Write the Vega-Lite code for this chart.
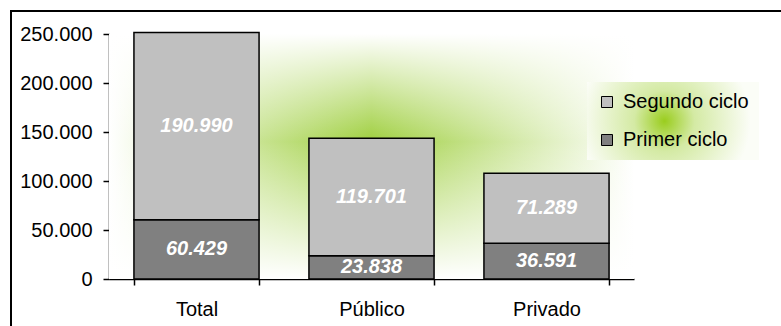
{
  "$schema": "https://vega.github.io/schema/vega-lite/v6.json",
  "width": 770,
  "height": 315,
  "autosize": {"type": "none"},
  "padding": {"left": 11, "top": 11, "right": 0, "bottom": 0},
  "background": "white",
  "config": {
    "locale": {"number": {"decimal": ",", "thousands": ".", "grouping": [3], "currency": ["", " €"]}},
    "view": {"fill": "white", "stroke": "black", "strokeWidth": 2, "strokeDash": [770, 1085, 315]},
    "font": "Liberation Sans"
  },
  "layer": [
    {
      "data": {"values": [{}]},
      "encoding": {
        "x": {"datum": 0, "type": "quantitative", "scale": {"domain": [0, 1], "range": [98, 623]}, "axis": null},
        "x2": {"datum": 1},
        "y": {"datum": 0, "type": "quantitative", "title": null},
        "y2": {"datum": 250000}
      },
      "layer": [
        {
          "mark": {
            "type": "rect",
            "strokeWidth": 0,
            "fill": {
              "gradient": "linear",
              "x1": 0, "y1": 0, "x2": 1, "y2": 0,
              "stops": [
                {"offset": 0, "color": "#ffffff"},
                {"offset": 0.5, "color": "#9fcf3f"},
                {"offset": 1, "color": "#ffffff"}
              ]
            }
          }
        },
        {
          "mark": {
            "type": "rect",
            "strokeWidth": 0,
            "fill": {
              "gradient": "linear",
              "x1": 0, "y1": 0, "x2": 0, "y2": 1,
              "stops": [
                {"offset": 0, "color": "rgba(255,255,255,1)"},
                {"offset": 0.44, "color": "rgba(255,255,255,0)"},
                {"offset": 1, "color": "rgba(255,255,255,1)"}
              ]
            }
          }
        }
      ]
    },
    {
      "data": {
        "values": [
          {"sector": "Total", "ciclo": "Primer ciclo", "valor": 60429},
          {"sector": "Total", "ciclo": "Segundo ciclo", "valor": 190990},
          {"sector": "Público", "ciclo": "Primer ciclo", "valor": 23838},
          {"sector": "Público", "ciclo": "Segundo ciclo", "valor": 119701},
          {"sector": "Privado", "ciclo": "Primer ciclo", "valor": 36591},
          {"sector": "Privado", "ciclo": "Segundo ciclo", "valor": 71289}
        ]
      },
      "encoding": {
        "x": {
          "field": "sector",
          "type": "nominal",
          "sort": ["Total", "Público", "Privado"],
          "scale": {"range": [98, 623], "paddingInner": 0.285, "paddingOuter": 0.1425},
          "axis": {
            "title": null,
            "offset": -47,
            "labelAngle": 0,
            "labelFont": "Liberation Sans",
            "labelFontSize": 20,
            "labelColor": "black",
            "labelPadding": 14,
            "tickBand": "extent",
            "tickSize": 6,
            "tickColor": "black",
            "domainColor": "black",
            "domainWidth": 1.5,
            "tickWidth": 1.5,
            "grid": false
          }
        },
        "order": {"field": "ciclo", "sort": "ascending"}
      },
      "layer": [
        {
          "mark": {"type": "bar", "stroke": "black", "strokeWidth": 1.5, "opacity": 1},
          "encoding": {
            "y": {
              "field": "valor",
              "type": "quantitative",
              "stack": "zero",
              "scale": {"domain": [0, 250000], "range": [268, 23], "nice": false},
              "axis": {
                "title": null,
                "offset": -98,
                "values": [0, 50000, 100000, 150000, 200000, 250000],
                "format": ",.0f",
                "labelFont": "Liberation Sans",
                "labelFontSize": 20,
                "labelColor": "black",
                "labelPadding": 11,
                "tickSize": 6,
                "tickColor": "black",
                "tickWidth": 1.5,
                "domainColor": "black",
                "domainWidth": 1.5,
                "grid": false
              }
            },
            "color": {
              "field": "ciclo",
              "type": "nominal",
              "scale": {"domain": ["Segundo ciclo", "Primer ciclo"], "range": ["#c0c0c0", "#808080"]},
              "legend": {
                "title": null,
                "orient": "none",
                "legendX": 576,
                "legendY": 71,
                "padding": 10,
                "fillColor": {"expr": "{gradient: 'radial', x1: 0.45, y1: 0.5, r1: 0, x2: 0.45, y2: 0.5, r2: 0.5, stops: [{offset: 0, color: '#9acd1e'}, {offset: 0.35, color: '#d4eaa4'}, {offset: 1, color: '#fbfdf7'}]}"},
                "symbolType": "square",
                "symbolSize": 121,
                "symbolStrokeColor": "black",
                "symbolStrokeWidth": 1,
                "symbolOpacity": 1,
                "labelFont": "Liberation Sans",
                "labelFontSize": 20,
                "labelColor": "black",
                "labelOffset": 6,
                "rowPadding": 18
              }
            }
          }
        },
        {
          "mark": {
            "type": "text",
            "font": "Liberation Sans",
            "fontSize": 20,
            "fontWeight": "bold",
            "fontStyle": "italic",
            "color": "white",
            "baseline": "middle"
          },
          "encoding": {
            "y": {"field": "valor", "type": "quantitative", "stack": "zero", "bandPosition": 0.5},
            "detail": {"field": "ciclo"},
            "text": {"field": "valor", "type": "quantitative", "format": ",.0f"}
          }
        }
      ]
    }
  ],
  "resolve": {"scale": {"x": "independent"}}
}
